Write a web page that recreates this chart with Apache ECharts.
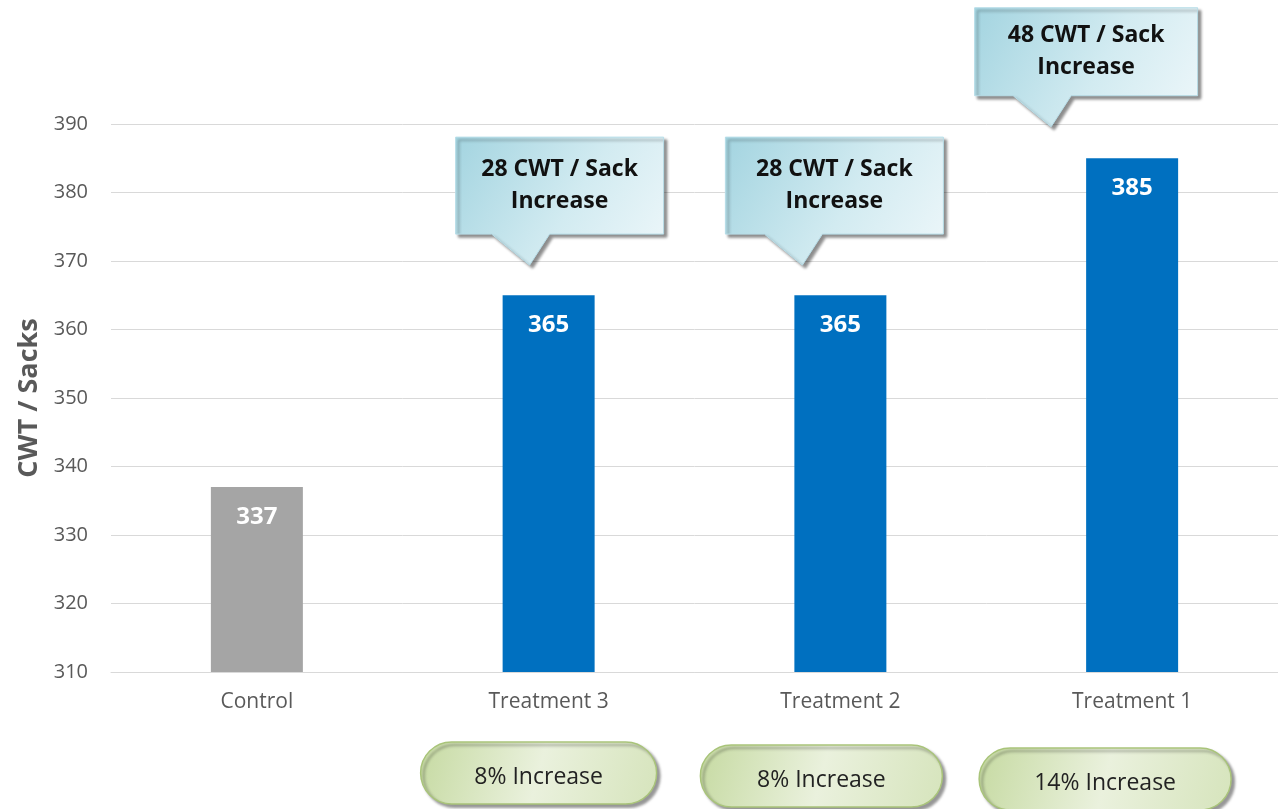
<!DOCTYPE html>
<html>
<head>
<meta charset="utf-8">
<script src="https://cdn.jsdelivr.net/npm/echarts@6/dist/echarts.min.js"></script>
<style>
html,body{margin:0;padding:0;background:#fff;}
#chart{width:1278px;height:809px;}
</style>
</head>
<body>
<div id="chart"></div>
<script>
// ---- data ----
var categories = ['Control', 'Treatment 3', 'Treatment 2', 'Treatment 1'];
var values = [337, 365, 365, 385];
var yTicks = [310, 320, 330, 340, 350, 360, 370, 380, 390];
var calloutCats = [1, 2, 3];
var calloutTipValues = [369.4, 369.4, 389.6];
var calloutTexts = ['28 CWT / Sack\nIncrease', '28 CWT / Sack\nIncrease', '48 CWT / Sack\nIncrease'];
var pillCats = [1, 2, 3];
var pillTexts = ['8% Increase', '8% Increase', '14% Increase'];

// ---- layout (pixel offsets, styling) ----
var calloutLayout = [
  {tipDx: -19, boxDx: 11, boxW: 208, boxH: 97, gap: 31},
  {tipDx: -38, boxDx: -6, boxW: 218, boxH: 97, gap: 31},
  {tipDx: -81, boxDx: -46, boxW: 223, boxH: 88, gap: 31}
];
var pillLayout = [
  {dx: -10, w: 236, top: 70},
  {dx: -19, w: 242, top: 73},
  {dx: -27, w: 252, top: 76}
];
var FONT = 'Open Sans';

var chart = echarts.init(document.getElementById('chart'));

function calloutItem(params, api) {
  var i = params.dataIndex;
  var L = calloutLayout[i];
  var p = api.coord([api.value(0), api.value(1)]);
  var tipX = p[0] + L.tipDx, tipY = p[1];
  var cx = p[0] + L.boxDx;
  var bottom = tipY - L.gap;
  var top = bottom - L.boxH;
  var left = cx - L.boxW / 2, right = cx + L.boxW / 2;
  var tL = tipX - 38, tR = tipX + 20;
  var pts = [[left, top], [right, top], [right, bottom], [tR, bottom], [tipX, tipY], [tL, bottom], [left, bottom]];
  return {
    type: 'group',
    children: [
      {
        type: 'polygon',
        shape: {points: pts},
        style: {
          fill: new echarts.graphic.LinearGradient(0, 0, 1, 1, [
            {offset: 0, color: '#A3D4E0'},
            {offset: 0.55, color: '#D2EBF1'},
            {offset: 1, color: '#EEF7FA'}
          ]),
          stroke: '#B7DDE8',
          lineWidth: 1,
          shadowColor: 'rgba(0,0,0,0.45)',
          shadowBlur: 3,
          shadowOffsetX: 3,
          shadowOffsetY: 3
        }
      },
      {
        type: 'text',
        style: {
          text: calloutTexts[i],
          x: cx, y: (top + bottom) / 2,
          align: 'center', verticalAlign: 'middle',
          font: 'bold 23px "' + FONT + '"',
          lineHeight: 32,
          fill: '#111'
        }
      }
    ]
  };
}

function pillItem(params, api) {
  var i = params.dataIndex;
  var L = pillLayout[i];
  var p = api.coord([api.value(0), api.value(1)]);
  var cx = p[0] + L.dx;
  var top = p[1] + L.top;
  var h = 62;
  return {
    type: 'group',
    children: [
      {
        type: 'rect',
        shape: {x: cx - L.w / 2, y: top, width: L.w, height: h, r: 31},
        style: {
          fill: new echarts.graphic.LinearGradient(0, 0, 1, 1, [
            {offset: 0, color: '#C6DAA2'},
            {offset: 0.5, color: '#EAF1DD'},
            {offset: 1, color: '#D6E4BC'}
          ]),
          stroke: '#A9C47A',
          lineWidth: 1.5,
          shadowColor: 'rgba(0,0,0,0.4)',
          shadowBlur: 3,
          shadowOffsetX: 3,
          shadowOffsetY: 3
        }
      },
      {
        type: 'text',
        style: {
          text: pillTexts[i],
          x: cx, y: top + 35,
          align: 'center', verticalAlign: 'middle',
          font: '23px "' + FONT + '"',
          fill: '#222'
        }
      }
    ]
  };
}

var option = {
  animation: false,
  textStyle: {fontFamily: FONT},
  grid: {left: 111, right: -2, top: 124, bottom: 137, containLabel: false},
  xAxis: {
    type: 'category',
    data: categories,
    axisTick: {show: false},
    axisLine: {show: true, lineStyle: {color: '#D9D9D9', width: 1}},
    axisLabel: {color: '#595959', fontSize: 21, margin: 20, fontFamily: FONT}
  },
  yAxis: {
    type: 'value',
    min: yTicks[0],
    max: yTicks[yTicks.length - 1],
    interval: yTicks[1] - yTicks[0],
    name: 'CWT / Sacks',
    nameLocation: 'middle',
    nameGap: 52,
    nameTextStyle: {color: '#595959', fontSize: 27, fontWeight: 'bold', fontFamily: FONT},
    axisLine: {show: false},
    axisTick: {show: false},
    axisLabel: {color: '#595959', fontSize: 20, margin: 23, fontFamily: FONT},
    splitLine: {lineStyle: {color: '#D9D9D9', width: 1}}
  },
  series: [
    {
      type: 'bar',
      data: values,
      barWidth: 92,
      itemStyle: {
        color: function (p) { return p.dataIndex === 0 ? '#A5A5A5' : '#0070C0'; }
      },
      label: {
        show: true,
        position: 'insideTop',
        distance: 18,
        color: '#fff',
        fontSize: 24,
        fontWeight: 'bold',
        fontFamily: FONT
      },
      z: 2
    },
    {
      type: 'custom',
      data: calloutCats.map(function (c, i) { return [c, calloutTipValues[i]]; }),
      renderItem: calloutItem,
      clip: false,
      silent: true,
      z: 5
    },
    {
      type: 'custom',
      data: pillCats.map(function (c) { return [c, yTicks[0]]; }),
      renderItem: pillItem,
      clip: false,
      silent: true,
      z: 5
    }
  ]
};
chart.setOption(option);
</script>
</body>
</html>
